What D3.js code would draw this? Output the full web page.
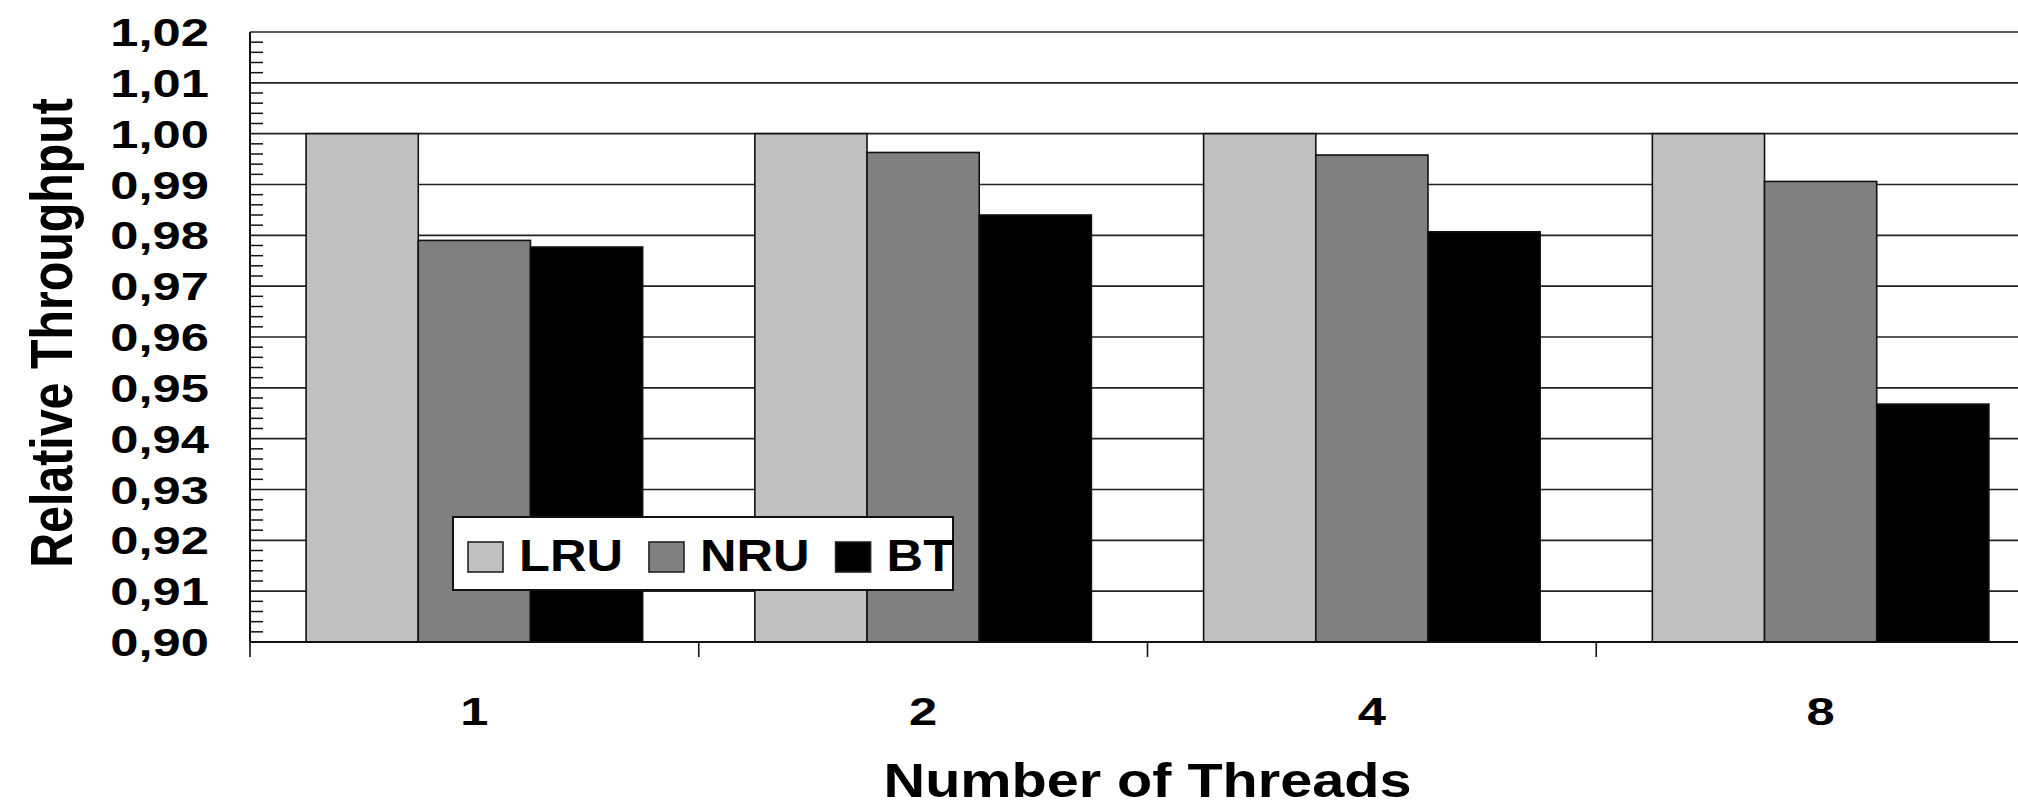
<!DOCTYPE html>
<html>
<head>
<meta charset="utf-8">
<script src="https://cdn.jsdelivr.net/npm/d3@7"></script>
<style>
  html, body { margin: 0; padding: 0; background: #fff; overflow: hidden; }
  svg { display: block; }
  text { font-family: "Liberation Sans", Arial, Helvetica, sans-serif; font-weight: bold; fill: #000; }
</style>
</head>
<body>
<div id="chart"></div>
<script>
// Relative throughput per replacement policy, by thread count
const categories = ["1", "2", "4", "8"];
const seriesNames = ["LRU", "NRU", "BT"];
const lruValues = [1.000, 1.000, 1.000, 1.000];
const nruValues = [0.9790, 0.9963, 0.9958, 0.9906];
const btValues  = [0.9777, 0.9840, 0.9807, 0.9468];
const yTicks = [0.90, 0.91, 0.92, 0.93, 0.94, 0.95, 0.96, 0.97, 0.98, 0.99, 1.00, 1.01, 1.02];
const xTitle = "Number of Threads";
const yTitle = "Relative Throughput";

const seriesValues = [lruValues, nruValues, btValues];
const colors = ["#c0c0c0", "#808080", "#000000"];

const W = 2018, H = 808;
const plot = { left: 250, right: 2045, top: 32, bottom: 642 };

const svg = d3.select("#chart").append("svg")
  .attr("width", W).attr("height", H);

const y = d3.scaleLinear().domain([0.90, 1.02]).range([plot.bottom, plot.top]);
const x = d3.scaleBand().domain(categories).range([plot.left, plot.right]).padding(0);
const bw = x.bandwidth();
// bars fill 3/4 of each category, leaving a gap of one bar width
const xs = d3.scaleBand().domain(seriesNames).range([bw / 8, bw - bw / 8]).padding(0);

// horizontal gridlines
svg.append("g").selectAll("line").data(yTicks).join("line")
  .attr("x1", plot.left).attr("x2", plot.right)
  .attr("y1", d => y(d)).attr("y2", d => y(d))
  .attr("stroke", "#222").attr("stroke-width", 1.6);

// bars
const rows = [];
categories.forEach((c, i) => seriesNames.forEach((s, j) => rows.push({ c, s, j, v: seriesValues[j][i] })));
svg.append("g").selectAll("rect").data(rows).join("rect")
  .attr("x", d => x(d.c) + xs(d.s))
  .attr("y", d => y(d.v))
  .attr("width", xs.bandwidth())
  .attr("height", d => y(0.90) - y(d.v))
  .attr("fill", d => colors[d.j])
  .attr("stroke", "#111").attr("stroke-width", 1.6);

// y axis with inner minor ticks
const minor = d3.range(0, 61).map(i => 0.90 + i * 0.002).filter((d, i) => i % 5 !== 0);
const yAxis = svg.append("g");
yAxis.append("line")
  .attr("x1", plot.left).attr("x2", plot.left)
  .attr("y1", plot.top).attr("y2", plot.bottom)
  .attr("stroke", "#111").attr("stroke-width", 2);
yAxis.selectAll("line.minor").data(minor).join("line").attr("class", "minor")
  .attr("x1", plot.left).attr("x2", plot.left + 13)
  .attr("y1", d => y(d)).attr("y2", d => y(d))
  .attr("stroke", "#111").attr("stroke-width", 1.5);

const fmt = d => d3.format(".2f")(d).replace(".", ",");
const tickSx = 1.3;
yAxis.selectAll("text").data(yTicks).join("text")
  .attr("transform", d => `translate(209,${y(d) + 14}) scale(${tickSx},1)`)
  .attr("text-anchor", "end")
  .attr("font-size", 39)
  .text(fmt);

// x axis
const xAxis = svg.append("g");
xAxis.append("line")
  .attr("x1", plot.left).attr("x2", plot.right)
  .attr("y1", plot.bottom).attr("y2", plot.bottom)
  .attr("stroke", "#111").attr("stroke-width", 2);
xAxis.selectAll("line.tick").data(categories.concat(["end"])).join("line").attr("class", "tick")
  .attr("x1", (d, i) => plot.left + i * bw).attr("x2", (d, i) => plot.left + i * bw)
  .attr("y1", plot.bottom).attr("y2", plot.bottom + 15)
  .attr("stroke", "#111").attr("stroke-width", 1.6);
xAxis.selectAll("text").data(categories).join("text")
  .attr("transform", d => `translate(${x(d) + bw / 2},725) scale(${tickSx},1)`)
  .attr("text-anchor", "middle")
  .attr("font-size", 39)
  .text(d => d);

// axis titles
svg.append("text")
  .attr("transform", `translate(${(plot.left + plot.right) / 2},797) scale(1.2,1)`)
  .attr("text-anchor", "middle")
  .attr("font-size", 48)
  .text(xTitle);

svg.append("text")
  .attr("transform", `translate(72,${(plot.top + plot.bottom) / 2 - 4}) rotate(-90) scale(1,1.21)`)
  .attr("text-anchor", "middle")
  .attr("font-size", 48.3)
  .text(yTitle);

// legend
const legend = svg.append("g");
const lg = { x: 453, y: 517, w: 500, h: 73 };
legend.append("rect")
  .attr("x", lg.x).attr("y", lg.y).attr("width", lg.w).attr("height", lg.h)
  .attr("fill", "#fff").attr("stroke", "#111").attr("stroke-width", 2);
const legendSx = 1.15;
let cx = lg.x + 15;
seriesNames.forEach((s, j) => {
  legend.append("rect")
    .attr("x", cx).attr("y", lg.y + 25).attr("width", 35).attr("height", 30)
    .attr("fill", colors[j]).attr("stroke", "#222").attr("stroke-width", 1.6);
  const t = legend.append("text")
    .attr("transform", `translate(${cx + 51},${lg.y + 54}) scale(${legendSx},1)`)
    .attr("font-size", 44)
    .text(s);
  const tw = t.node().getComputedTextLength() * legendSx;
  cx = cx + 51 + tw + 26;
});
</script>
</body>
</html>
